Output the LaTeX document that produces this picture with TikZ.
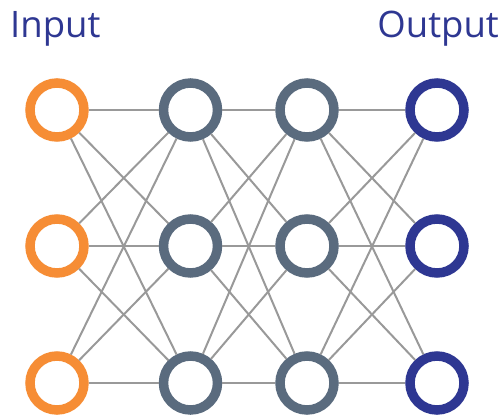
\documentclass[tikz,border=0pt]{standalone}
\usepackage{fontspec}
\setmainfont{Open Sans}
\definecolor{inorange}{HTML}{F68D35}
\definecolor{hidslate}{HTML}{5A6B7E}
\definecolor{outnavy}{HTML}{2E3792}
\definecolor{edgegray}{HTML}{999999}
\begin{document}
\begin{tikzpicture}[x=1pt,y=-1pt,
  neuron/.style={circle,draw,line width=9.5pt,minimum size=54pt,inner sep=0pt,fill=white},
  inneuron/.style={neuron,draw=inorange},
  hidneuron/.style={neuron,draw=hidslate},
  outneuron/.style={neuron,draw=outnavy},
  conn/.style={draw=edgegray,line width=2pt},
  lbl/.style={text=outnavy,font=\fontsize{36.5}{40}\selectfont,inner sep=0pt}]
\useasboundingbox (0,0) rectangle (501,417);
\node[lbl,anchor=base west] (tin) at (10,38) {Input};
\node[lbl,anchor=base east] (tout) at (499,38) {Output};
\foreach \r/\y in {1/110,2/246,3/383}{
  \node[inneuron] (a\r) at (57,\y) {};
  \node[hidneuron] (b\r) at (190.5,\y) {};
  \node[hidneuron] (c\r) at (307,\y) {};
  \node[outneuron] (d\r) at (437,\y) {};
}
\foreach \i in {1,2,3}{
  \foreach \j in {1,2,3}{
    \draw[conn] (a\i) -- (b\j);
    \draw[conn] (b\i) -- (c\j);
    \draw[conn] (c\i) -- (d\j);
  }
}
\end{tikzpicture}
\end{document}
